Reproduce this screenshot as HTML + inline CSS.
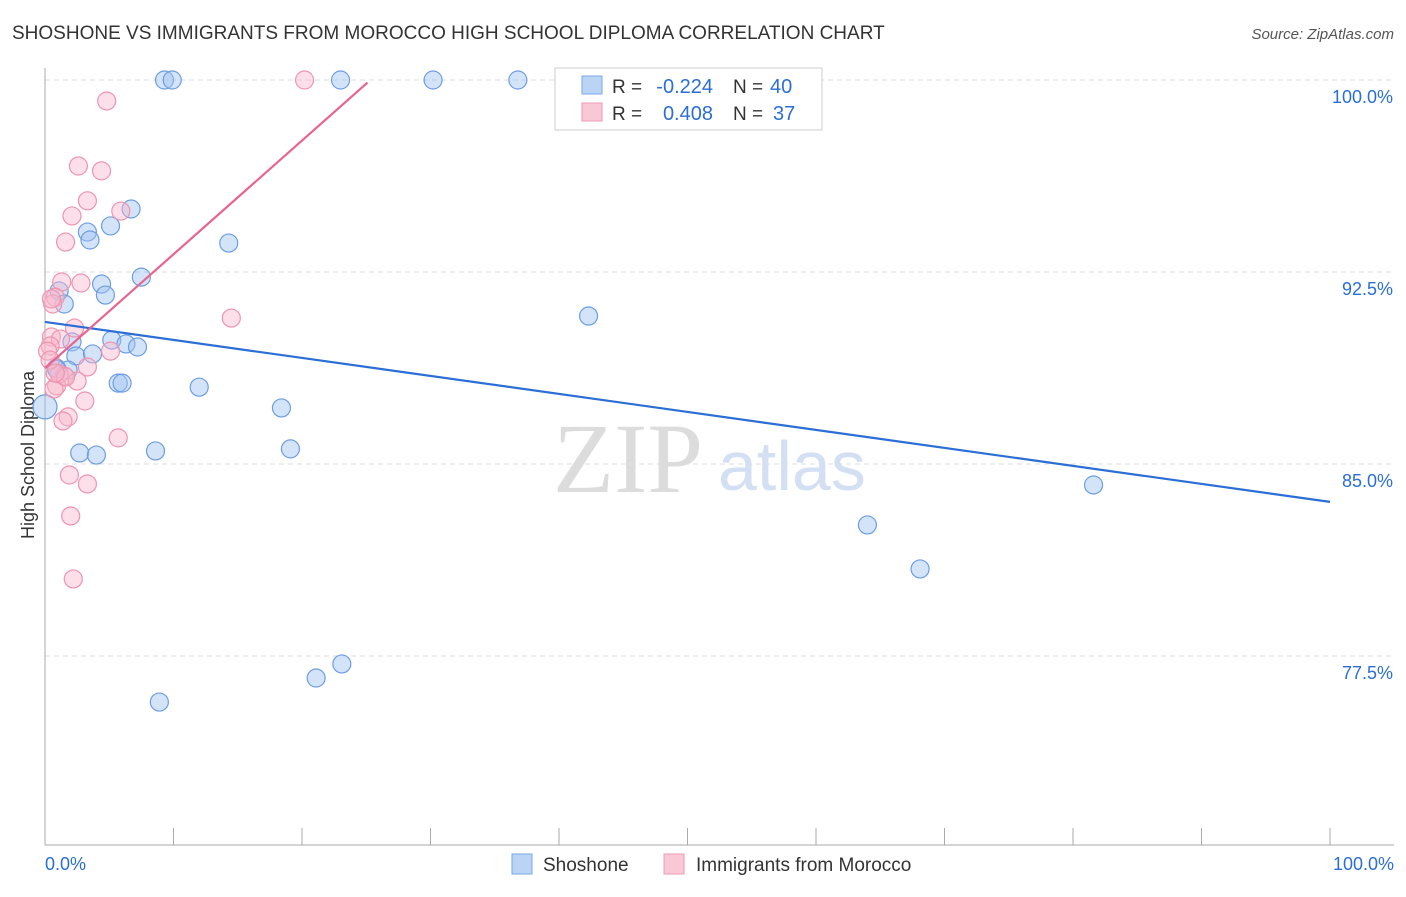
<!DOCTYPE html>
<html><head><meta charset="utf-8"><style>
body{margin:0;background:#fff}
</style></head><body>
<svg id="c" width="1406" height="892" xmlns="http://www.w3.org/2000/svg" font-family="Liberation Sans, sans-serif">
<text x="12" y="39" font-size="19" fill="#333">SHOSHONE VS IMMIGRANTS FROM MOROCCO HIGH SCHOOL DIPLOMA CORRELATION CHART</text>
<text x="1394" y="39" font-size="15" fill="#555" font-style="italic" text-anchor="end">Source: ZipAtlas.com</text>
<text x="34" y="455" font-size="18" fill="#333" text-anchor="middle" transform="rotate(-90 34 455)">High School Diploma</text>
<g id="grid"></g><g id="axes"></g>
<text x="553" y="492" font-size="100" fill="#dcdcdc" style="font-family:'Liberation Serif',serif">ZIP</text>
<text x="718" y="490" font-size="70" fill="#d3e0f3">atlas</text>
<g id="pts"></g><g id="lines"></g>
<g>
<rect x="555" y="68" width="267" height="62" fill="#fff" stroke="#ccc"/>
<rect x="582" y="76" width="20" height="18" fill="#b9d4f5" stroke="#7aa7e8"/>
<rect x="582" y="103" width="20" height="18" fill="#f9c8d6" stroke="#ef9ab3"/>
<text x="612" y="93" font-size="19" fill="#333">R =</text>
<text x="713" y="93" font-size="20" fill="#2a6ed6" text-anchor="end">-0.224</text>
<text x="733" y="93" font-size="19" fill="#333">N =</text>
<text x="770" y="93" font-size="20" fill="#2a6ed6">40</text>
<text x="612" y="120" font-size="19" fill="#333">R =</text>
<text x="713" y="120" font-size="20" fill="#2a6ed6" text-anchor="end">0.408</text>
<text x="733" y="120" font-size="19" fill="#333">N =</text>
<text x="773" y="120" font-size="20" fill="#2a6ed6">37</text>
</g>
<g>
<rect x="512" y="854" width="20" height="20" fill="#b9d4f5" stroke="#7aa7e8"/>
<text x="543" y="871" font-size="19" fill="#333">Shoshone</text>
<rect x="664" y="854" width="20" height="20" fill="#f9c8d6" stroke="#ef9ab3"/>
<text x="696" y="871" font-size="19" fill="#333">Immigrants from Morocco</text>
</g>
</svg>
<script>
const yTicks=[100,92.5,85,77.5];
const yTickLabels=["100.0%","92.5%","85.0%","77.5%"];
const shoX=[9.3,9.9,23.0,30.2,36.8,6.7,5.1,3.3,3.5,14.3,7.5,4.4,4.7,1.1,1.5,42.3,5.2,6.3,7.2,2.1,2.4,3.7,0.9,1.8,5.7,6.0,12.0,0.0,18.4,2.7,4.0,8.6,19.1,81.6,64.0,68.1,23.1,21.1,8.9,0.9];
const shoY=[100,100,100,100,100,94.96,94.3,94.06,93.75,93.63,92.3,92.03,91.6,91.76,91.25,90.78,89.84,89.69,89.57,89.77,89.22,89.3,88.75,88.67,88.16,88.16,88.0,87.23,87.19,85.43,85.35,85.51,85.59,84.18,82.62,80.9,77.19,76.64,75.7,88.7];
const morX=[20.2,4.8,2.6,4.4,3.3,5.9,2.1,1.6,1.3,2.8,0.8,0.6,2.3,0.5,1.2,0.4,0.2,5.1,3.3,1.5,2.5,0.9,0.7,3.1,1.8,1.4,5.7,1.9,3.3,2.0,2.2,14.5,0.5,1.1,0.4,1.6,0.8];
const morY=[100,99.18,96.64,96.45,95.28,94.88,94.69,93.67,92.11,92.07,91.52,91.25,90.31,89.96,89.88,89.61,89.41,89.41,88.79,88.44,88.24,88.05,87.93,87.46,86.84,86.68,86.02,84.57,84.22,82.97,80.51,90.7,91.45,88.52,89.06,88.4,88.55];
const shoTrend=[[0,90.55],[100,83.52]];
const morTrend=[[0,88.75],[25.1,99.9]];
const NS="http://www.w3.org/2000/svg";
const X=v=>45+v*12.85, Y=v=>80+(100-v)*25.6;
function mk(t,a,p){const e=document.createElementNS(NS,t);for(const k in a)e.setAttribute(k,a[k]);document.getElementById(p).appendChild(e);return e;}
yTicks.forEach((t,i)=>{
 const g=mk('line',{x1:45,x2:1394,y1:Y(t),y2:Y(t),stroke:'#ddd','stroke-dasharray':'5,4'},'grid');
 
 
 const l=mk('text',{x:1393,y:Y(t)+23,'font-size':18,fill:'#2a6ed6','text-anchor':'end'},'grid');l.textContent=yTickLabels[i];
 
 
});
const ax=mk('line',{x1:45,x2:45,y1:68,y2:845,stroke:'#aaa'},'axes');


const bx=mk('line',{x1:45,x2:1394,y1:845,y2:845,stroke:'#aaa'},'axes');


for(let i=0;i<=10;i++){const t=mk('line',{x1:X(i*10),x2:X(i*10),y1:828,y2:845,stroke:'#aaa'},'axes');
 
 }
const xl0=mk('text',{x:45,y:870,'font-size':18,fill:'#2a6ed6'},'axes');xl0.textContent='0.0%';


const xl1=mk('text',{x:1394,y:870,'font-size':18,fill:'#2a6ed6','text-anchor':'end'},'axes');xl1.textContent='100.0%';


shoX.forEach((x,i)=>{const c=mk('circle',{cx:X(x),cy:Y(shoY[i]),r:x===0?12:9,fill:'rgba(160,195,240,0.45)',stroke:'#6c9de3','stroke-width':1.2},'pts');
 
 });
morX.forEach((x,i)=>{const c=mk('circle',{cx:X(x),cy:Y(morY[i]),r:9,fill:'rgba(248,185,205,0.45)',stroke:'#ee94b0','stroke-width':1.2},'pts');
 
 });
const l1=mk('line',{x1:X(shoTrend[0][0]),y1:Y(shoTrend[0][1]),x2:X(shoTrend[1][0]),y2:Y(shoTrend[1][1]),stroke:'#2a6ed6','stroke-width':2.2},'lines');


const l2=mk('line',{x1:X(morTrend[0][0]),y1:Y(morTrend[0][1]),x2:X(morTrend[1][0]),y2:Y(morTrend[1][1]),stroke:'#e8648f','stroke-width':2.2},'lines');


</script>
</body></html>
